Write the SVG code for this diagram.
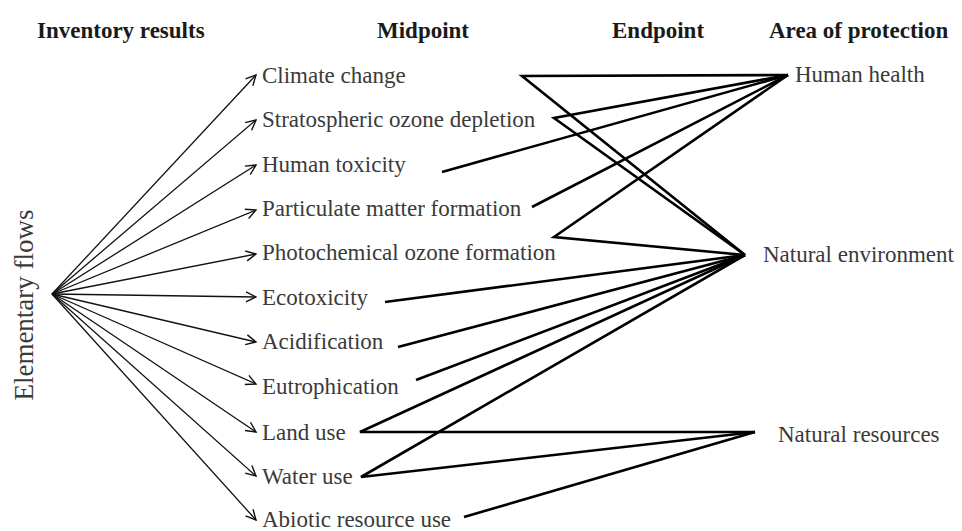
<svg xmlns="http://www.w3.org/2000/svg" width="962" height="531" viewBox="0 0 962 531">
<defs>
<marker id="ah" viewBox="0 0 12 12" refX="11" refY="6" markerWidth="12" markerHeight="12" markerUnits="userSpaceOnUse" orient="auto">
<path d="M1,1 L11,6 L1,11" fill="none" stroke="#111" stroke-width="1.4"/>
</marker>
</defs>
<style>
.hdr{font-family:"Liberation Serif","Times New Roman",serif;font-weight:bold;font-size:23px;fill:#1a1a1a}
.lbl{font-family:"Liberation Serif","Times New Roman",serif;font-size:23px;fill:#3a3a3a}
.arr{stroke:#111;stroke-width:1.3;fill:none;marker-end:url(#ah)}
.lnk{stroke:#000;stroke-width:2.6;fill:none;stroke-linejoin:miter}
</style>
<rect width="962" height="531" fill="#fff"/>
<g id="headers">
<text class="hdr" x="37" y="38">Inventory results</text>
<text class="hdr" x="377" y="38">Midpoint</text>
<text class="hdr" x="612" y="38">Endpoint</text>
<text class="hdr" x="769" y="38">Area of protection</text>
</g>
<g id="elementary-flows">
<text class="lbl" font-size="27" style="font-size:27px" transform="translate(33,305) rotate(-90)" text-anchor="middle">Elementary flows</text>
</g>
<g id="midpoints">
<g id="n-climate"><text class="lbl" x="262" y="83">Climate change</text></g>
<g id="n-strat"><text class="lbl" x="262" y="127">Stratospheric ozone depletion</text></g>
<g id="n-humtox"><text class="lbl" x="262" y="172">Human toxicity</text></g>
<g id="n-pm"><text class="lbl" x="262" y="216">Particulate matter formation</text></g>
<g id="n-photo"><text class="lbl" x="262" y="260">Photochemical ozone formation</text></g>
<g id="n-eco"><text class="lbl" x="262" y="305">Ecotoxicity</text></g>
<g id="n-acid"><text class="lbl" x="262" y="349">Acidification</text></g>
<g id="n-eutro"><text class="lbl" x="262" y="394">Eutrophication</text></g>
<g id="n-land"><text class="lbl" x="262" y="440">Land use</text></g>
<g id="n-water"><text class="lbl" x="262" y="484">Water use</text></g>
<g id="n-abiotic"><text class="lbl" x="262" y="527">Abiotic resource use</text></g>
</g>
<g id="areas">
<g id="n-hh"><text class="lbl" x="795" y="82">Human health</text></g>
<g id="n-ne"><text class="lbl" x="763" y="262">Natural environment</text></g>
<g id="n-nr"><text class="lbl" x="778" y="442">Natural resources</text></g>
</g>
<g id="connectors">
<line class="arr" x1="52" y1="294" x2="256" y2="75"/>
<line class="arr" x1="52" y1="294" x2="256" y2="120"/>
<line class="arr" x1="52" y1="294" x2="256" y2="165"/>
<line class="arr" x1="52" y1="294" x2="256" y2="210"/>
<line class="arr" x1="52" y1="294" x2="256" y2="254"/>
<line class="arr" x1="52" y1="294" x2="256" y2="297"/>
<line class="arr" x1="52" y1="294" x2="256" y2="342"/>
<line class="arr" x1="52" y1="294" x2="256" y2="384"/>
<line class="arr" x1="52" y1="294" x2="256" y2="432"/>
<line class="arr" x1="52" y1="294" x2="256" y2="476"/>
<line class="arr" x1="52" y1="294" x2="256" y2="520"/>
<polyline class="lnk" points="788,75 522,76 745,255"/>
<polyline class="lnk" points="788,75 554,118 745,255"/>
<line class="lnk" x1="442" y1="172" x2="788" y2="75"/>
<line class="lnk" x1="532" y1="207" x2="788" y2="75"/>
<polyline class="lnk" points="788,75 554,237 745,255"/>
<line class="lnk" x1="385" y1="302" x2="745" y2="255"/>
<line class="lnk" x1="398" y1="347" x2="745" y2="255"/>
<line class="lnk" x1="416" y1="380" x2="745" y2="255"/>
<polyline class="lnk" points="745,255 360,432 755,432"/>
<polyline class="lnk" points="745,255 361,477 755,432"/>
<line class="lnk" x1="464" y1="517" x2="755" y2="432"/>
</g>
</svg>
